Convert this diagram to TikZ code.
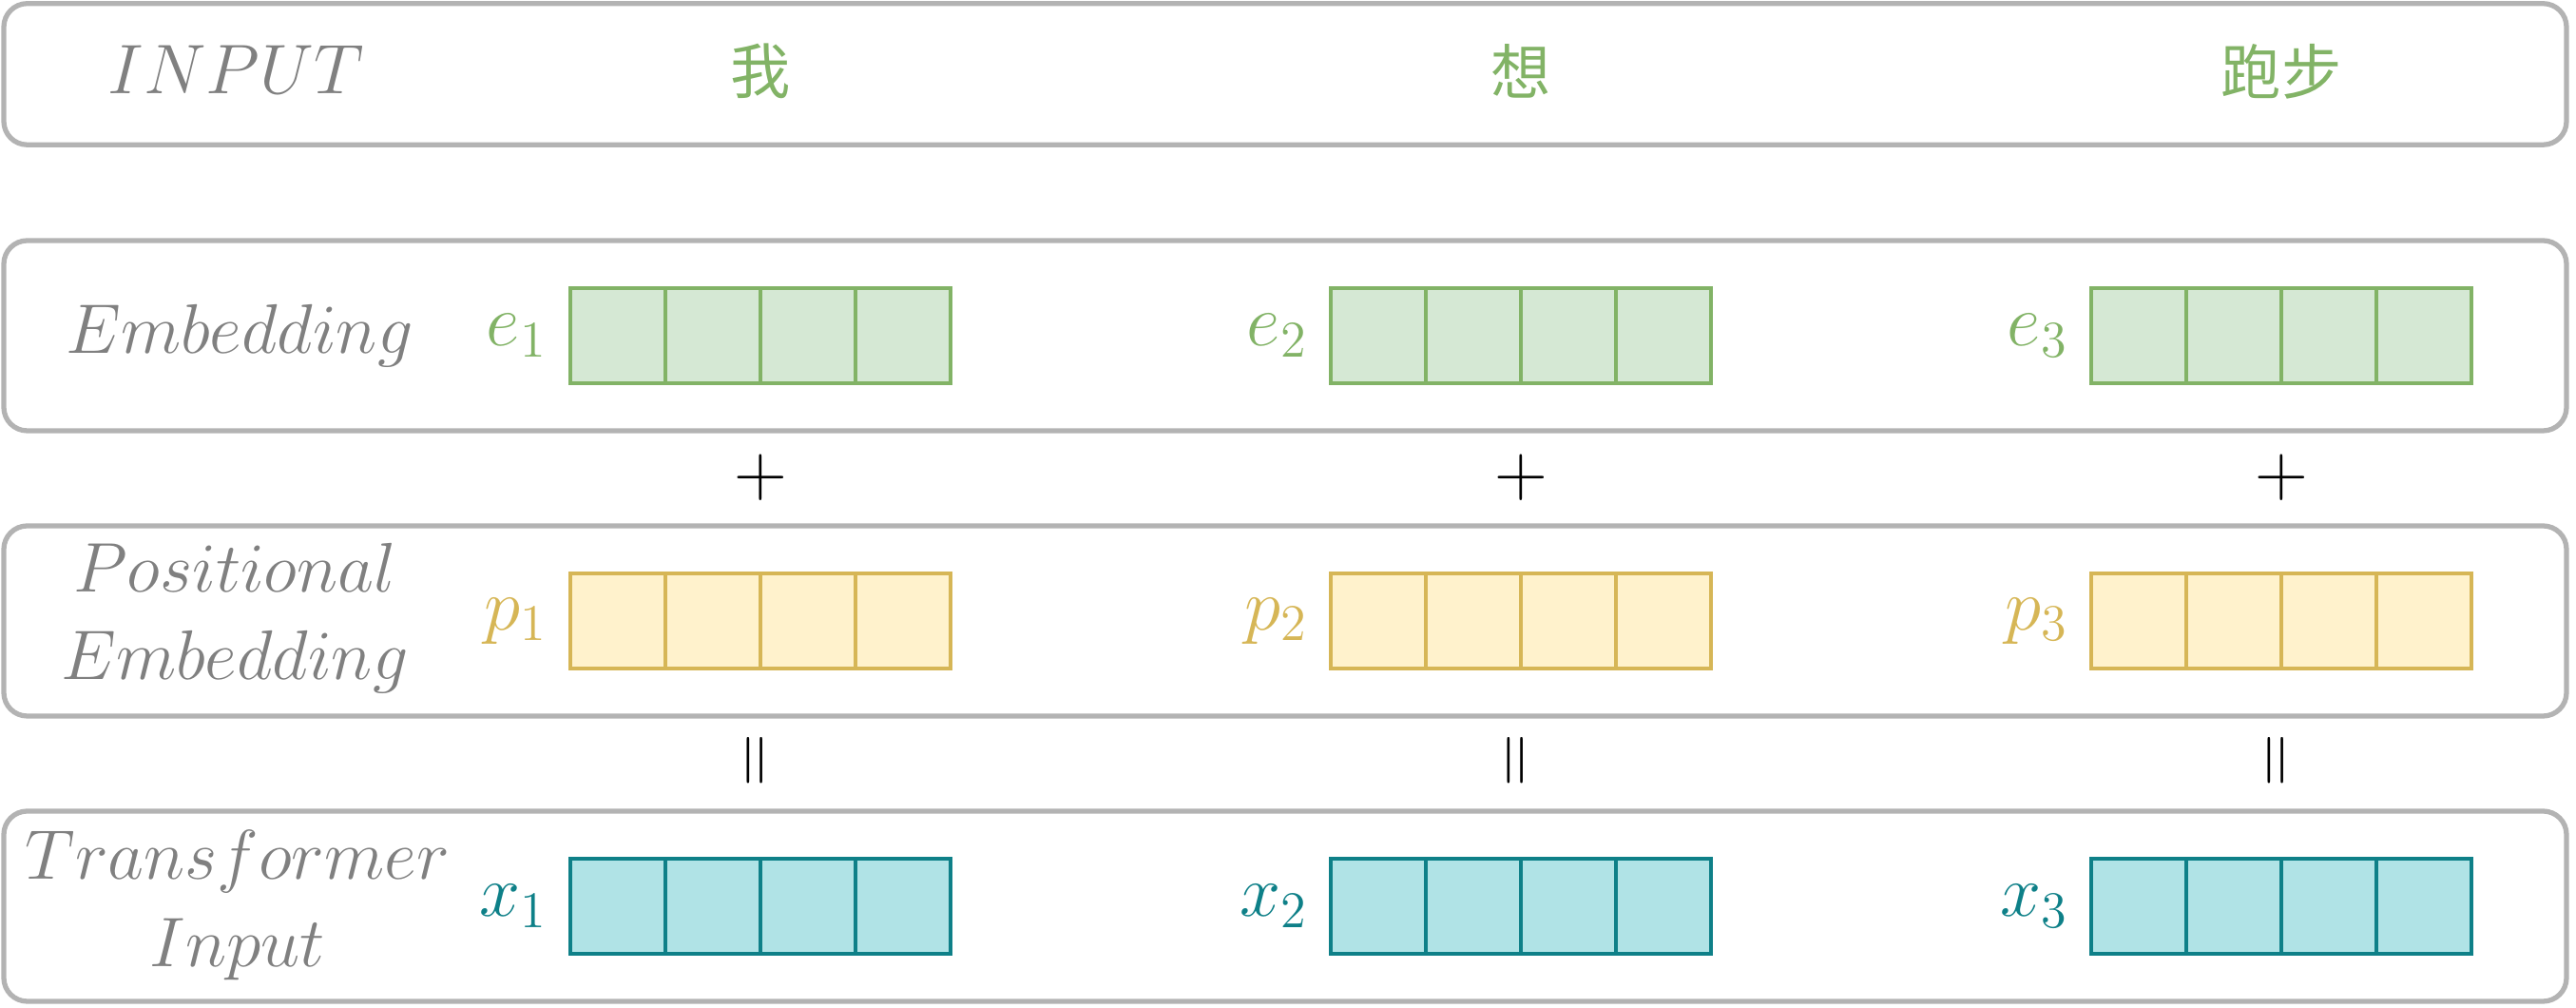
\RequirePackage{fix-cm}
\documentclass[tikz,border=0pt]{standalone}
\usepackage{fontspec}
\usepackage{xcolor}
\usepackage{tikz}
\usetikzlibrary{positioning}
\newfontfamily\cjk{Noto Sans CJK SC}
\definecolor{frame}{HTML}{B3B3B3}
\definecolor{caption}{HTML}{808080}
\definecolor{embgreen}{HTML}{82B366}
\definecolor{embgreenlight}{HTML}{D5E8D4}
\definecolor{posgold}{HTML}{D6B656}
\definecolor{posgoldlight}{HTML}{FFF2CC}
\definecolor{inteal}{HTML}{0E8088}
\definecolor{intealight}{HTML}{B0E3E6}
\tikzset{
  panel/.style={draw=frame, line width=1.5pt, rounded corners=7pt, minimum width=26.96cm, inner sep=0pt},
  rowname/.style={text=caption, font=\fontsize{21}{26}\selectfont, align=center, inner sep=0pt},
  word/.style={text=embgreen, font=\cjk\fontsize{18}{22}\selectfont, inner sep=0pt},
  vcell/.style={line width=1.4pt, minimum size=1cm, inner sep=0pt, outer sep=0pt},
  ecell/.style={vcell, draw=embgreen, fill=embgreenlight},
  pcell/.style={vcell, draw=posgold, fill=posgoldlight},
  xcell/.style={vcell, draw=inteal, fill=intealight},
  vname/.style={font=\fontsize{22}{26}\selectfont, inner sep=0pt},
  sign/.style={font=\fontsize{22}{26}\selectfont, inner sep=0pt}
}

\begin{document}
\begin{tikzpicture}
  \useasboundingbox (0,0) rectangle (27.1,10.6);
  % row frames
  \node[panel, minimum height=1.485cm] (inputrow) at (13.52,9.82) {};
  \node[panel, minimum height=2cm] (embrow) at (13.52,7.07) {};
  \node[panel, minimum height=2cm] (posrow) at (13.52,4.07) {};
  \node[panel, minimum height=2cm] (xrow) at (13.52,1.07) {};
  % row names
  \node[rowname] (inputname) at (2.48,9.87) {$INPUT$};
  \node[rowname] (embname) at (2.52,7.07) {$Embedding$};
  \node[rowname] (posname) at (2.47,4.10) {$Positional$\\$Embedding$};
  \node[rowname] (xname) at (2.50,1.08) {$Transformer$\\$Input$};
  % tokens and vectors
  \foreach \i/\xc/\tok in {1/6/我, 2/14/想, 3/22/跑步} {
    \node[word] (w\i) at (\xc+2,9.85) {\tok};
    \foreach \k in {1,...,4} {
      \node[ecell] (e\i-\k) at (\xc+\k-0.5,7.07) {};
      \node[pcell] (p\i-\k) at (\xc+\k-0.5,4.07) {};
      \node[xcell] (x\i-\k) at (\xc+\k-0.5,1.07) {};
    }
    \node[vname, text=embgreen, left=0.24cm of e\i-1] (e\i) {$e_{\i}$};
    \node[vname, text=posgold, left=0.24cm of p\i-1] (p\i) {$p_{\i}$};
    \node[vname, text=inteal, left=0.24cm of x\i-1] (x\i) {$x_{\i}$};
    \node[sign] (plus\i) at (\xc+2,5.58) {$+$};
    \node[sign, rotate=90] (eq\i) at (\xc+2,2.60) {$=$};
  }
\end{tikzpicture}
\end{document}
